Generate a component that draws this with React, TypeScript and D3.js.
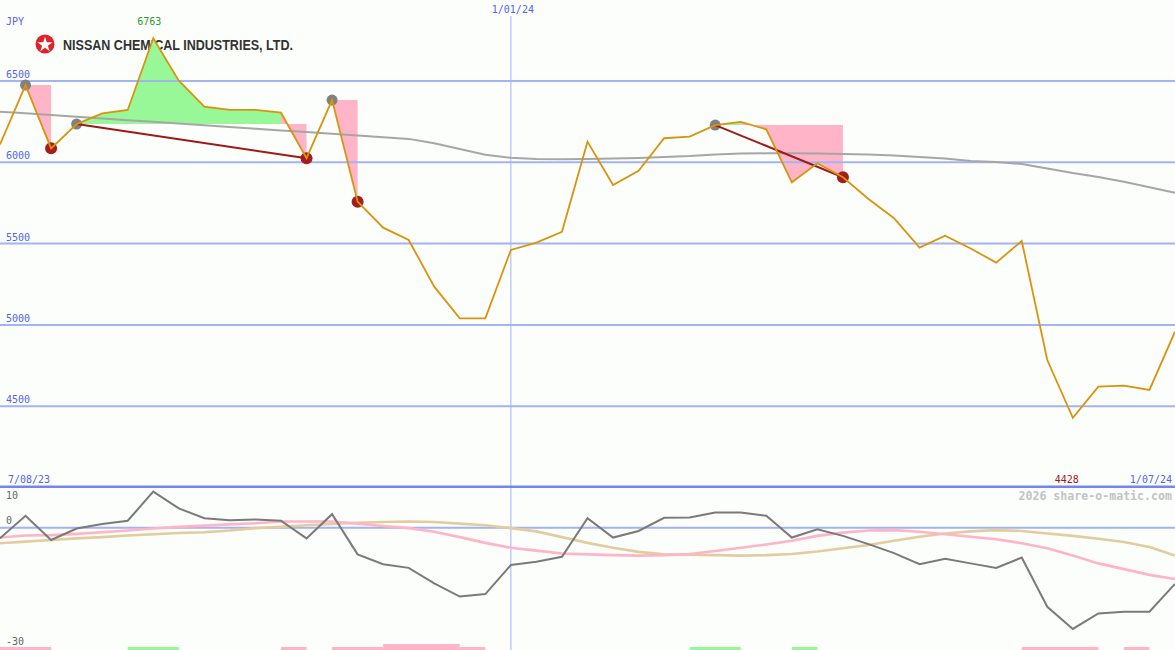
import React, { useEffect } from "react";
import * as d3 from "d3";

const dates = [
  "2023-08-14","2023-08-21","2023-08-28","2023-09-04","2023-09-11","2023-09-18","2023-09-25",
  "2023-10-02","2023-10-09","2023-10-16","2023-10-23","2023-10-30","2023-11-06","2023-11-13",
  "2023-11-20","2023-11-27","2023-12-04","2023-12-11","2023-12-18","2023-12-25","2024-01-01",
  "2024-01-08","2024-01-15","2024-01-22","2024-01-29","2024-02-05","2024-02-12","2024-02-19",
  "2024-02-26","2024-03-04","2024-03-11","2024-03-18","2024-03-25","2024-04-01","2024-04-08",
  "2024-04-15","2024-04-22","2024-04-29","2024-05-06","2024-05-13","2024-05-20","2024-05-27",
  "2024-06-03","2024-06-10","2024-06-17","2024-06-24","2024-07-01",
];

const price = [
  6110, 6475, 6086, 6235, 6301, 6322, 6763, 6502, 6342, 6322,
  6322, 6305, 6025, 6383, 5758, 5598, 5522, 5235, 5040, 5040,
  5461, 5506, 5573, 6127, 5860, 5948, 6148, 6158, 6229, 6248,
  6203, 5877, 5994, 5908, 5774, 5656, 5475, 5549, 5470, 5383,
  5516, 4784, 4428, 4620, 4626, 4600, 4958,
];

const movingAvg = [
  6311, 6301, 6291, 6280, 6270, 6259, 6249, 6238, 6228, 6217,
  6207, 6196, 6186, 6175, 6165, 6154, 6144, 6117, 6082, 6047,
  6028, 6020, 6018, 6020, 6023, 6026, 6032, 6038, 6048, 6054,
  6055, 6055, 6054, 6051, 6048, 6042, 6032, 6023, 6008, 6002,
  5990, 5962, 5934, 5910, 5880, 5846, 5812,
];

const oscGray = [
  -2.6, 2.9, -3.0, -0.2, 0.9, 1.7, 8.8, 4.7, 2.3, 1.8,
  2.0, 1.7, -2.6, 3.3, -6.5, -8.9, -9.8, -13.6, -16.8, -16.2,
  -9.1, -8.3, -7.1, 2.3, -2.4, -0.8, 2.4, 2.5, 3.7, 3.7,
  2.9, -2.4, -0.4, -2.0, -4.0, -6.2, -8.9, -7.6, -8.7, -9.8,
  -7.3, -19.3, -24.7, -20.9, -20.5, -20.5, -13.7,
];

const oscPink = [
  -2.4, -1.9, -1.8, -1.5, -1.1, -0.7, -0.2, 0.2, 0.5, 0.8,
  1.1, 1.5, 1.5, 1.5, 1.0, 0.4, -0.1, -1.0, -2.3, -3.7,
  -4.9, -5.6, -6.3, -6.5, -6.7, -6.8, -6.7, -6.4, -5.7, -4.9,
  -4.1, -3.2, -2.0, -1.2, -0.7, -0.6, -1.0, -1.6, -2.2, -2.8,
  -3.8, -5.0, -6.8, -8.7, -10.1, -11.5, -12.5,
];

const oscTan = [
  -3.8, -3.4, -3.0, -2.6, -2.3, -1.9, -1.6, -1.3, -1.1, -0.7,
  -0.1, 0.2, 0.6, 0.9, 1.2, 1.4, 1.5, 1.4, 1.0, 0.6,
  -0.1, -0.9, -2.3, -3.7, -4.9, -5.9, -6.5, -6.6, -6.7, -6.8,
  -6.7, -6.4, -5.8, -5.0, -4.2, -3.2, -2.2, -1.4, -0.9, -0.6,
  -0.8, -1.4, -2.0, -2.7, -3.5, -4.7, -6.8,
];

const priceTicks = [4500, 5000, 5500, 6000, 6500];
const oscTickLabels = [
  { v: 10, label: "10" },
  { v: 0, label: "0" },
  { v: -30, label: "-30" },
];

// pattern fills: level is price at "from"
const fillGroups = [
  { from: 1, to: 2 },
  { from: 3, to: 12 },
  { from: 13, to: 14 },
  { from: 28, to: 33 },
];
const trendLines = [
  { from: 3, to: 12 },
  { from: 28, to: 33 },
];
const highPivots = [1, 3, 13, 28];
const lowPivots = [2, 12, 14, 33];

const signalBars = [
  { from: 0, to: 2, kind: "down", size: 1 },
  { from: 5, to: 7, kind: "up", size: 1 },
  { from: 11, to: 12, kind: "down", size: 1 },
  { from: 13, to: 15, kind: "down", size: 1 },
  { from: 15, to: 18, kind: "down", size: 2 },
  { from: 18, to: 19, kind: "down", size: 1 },
  { from: 27, to: 29, kind: "up", size: 1 },
  { from: 31, to: 32, kind: "up", size: 1 },
  { from: 40, to: 43, kind: "down", size: 1 },
  { from: 44, to: 45, kind: "down", size: 1 },
];

const W = 1175;
const H = 650;
const BG = "#fbfefb";
const GRID = "#a3b3f3";
const LABEL = "#5365ee";
const GREEN = "#98f898";
const PINK = "#ffb4c8";
const MONO = "'DejaVu Sans Mono', 'Liberation Mono', monospace";

export default function App() {
  useEffect(() => {
    document.body.style.margin = "0";
  }, []);

  const parse = d3.timeParse("%Y-%m-%d");
  const dts = dates.map((s) => parse(s) as Date);
  const x = d3.scaleTime().domain(d3.extent(dts) as [Date, Date]).range([0, W]);
  const y = d3.scaleLinear().domain([4500, 6500]).range([406.2, 81]);
  const yo = d3.scaleLinear().domain([-30, 10]).range([650.7, 486.7]);
  const yb = d3.scaleLinear().domain([0, 2]).range([650, 644]);

  const idx = d3.range(price.length);
  const priceLine = d3.line<number>().x((i) => x(dts[i])).y((i) => y(price[i]));
  const maLine = d3.line<number>().x((i) => x(dts[i])).y((i) => y(movingAvg[i]));
  const oscLine = (arr: number[]) =>
    d3.line<number>().x((i) => x(dts[i])).y((i) => yo(arr[i]))(idx) || "";

  // build fill runs
  const fills: { d: string; color: string }[] = [];
  fillGroups.forEach((g) => {
    const level = price[g.from];
    let runStart = g.from;
    let runColor = "";
    for (let i = g.from; i < g.to; i++) {
      const c = price[i + 1] > level ? GREEN : PINK;
      if (i === g.from) runColor = c;
      if (c !== runColor) {
        fills.push({ d: mkArea(runStart, i, level), color: runColor });
        runStart = i;
        runColor = c;
      }
    }
    fills.push({ d: mkArea(runStart, g.to, level), color: runColor });
  });
  function mkArea(a: number, b: number, level: number) {
    return (
      d3
        .area<number>()
        .x((i) => x(dts[i]))
        .y0(() => y(level))
        .y1((i) => y(price[i]))(d3.range(a, b + 1)) || ""
    );
  }

  const jan1 = parse("2024-01-01") as Date;
  const star = d3.symbol().type(d3.symbolStar).size(72)() || "";
  const minIdx = d3.minIndex(price);
  const maxIdx = d3.maxIndex(price);

  return (
    <svg
      width={W}
      height={H}
      style={{ position: "absolute", left: 0, top: 0, display: "block" }}
    >
      <rect x={0} y={0} width={W} height={H} fill={BG} />

      {/* logo */}
      <circle cx={45} cy={44} r={9.5} fill="#e3212b" />
      <path d={star} transform="translate(45,44.8)" fill="#ffffff" />
      <text
        x={63}
        y={50}
        fontFamily="'Liberation Sans', Arial, sans-serif"
        fontWeight="bold"
        fontSize={14.5}
        fill="#333333"
        textLength={230}
        lengthAdjust="spacingAndGlyphs"
      >
        NISSAN CHEMICAL INDUSTRIES, LTD.
      </text>

      {/* fills */}
      {fills.map((f, k) => (
        <path key={k} d={f.d} fill={f.color} stroke="none" />
      ))}

      {/* price gridlines */}
      {priceTicks.map((t) => (
        <g key={t}>
          <line x1={0} x2={W} y1={y(t)} y2={y(t)} stroke={GRID} strokeWidth={2} />
          <text x={6} y={y(t) - 3} fontFamily={MONO} fontSize={10} fill={LABEL}>
            {t}
          </text>
        </g>
      ))}

      {/* vertical date line */}
      <line x1={x(jan1)} x2={x(jan1)} y1={16} y2={H} stroke={GRID} strokeWidth={1} />
      <text x={x(jan1) + 2} y={13} textAnchor="middle" fontFamily={MONO} fontSize={10} fill={LABEL}>
        1/01/24
      </text>

      <text x={6} y={25} fontFamily={MONO} fontSize={10} fill={LABEL}>
        JPY
      </text>
      <text x={x(dts[maxIdx]) - 4} y={25} textAnchor="middle" fontFamily={MONO} fontSize={10} fill="#2e9a2e">
        {price[maxIdx]}
      </text>

      {/* moving average */}
      <path d={maLine(idx) || ""} fill="none" stroke="#a6a6a6" strokeWidth={2} />

      {/* pivots */}
      {highPivots.map((i) => (
        <circle key={"h" + i} cx={x(dts[i])} cy={y(price[i])} r={5.5} fill="#808080" />
      ))}
      {lowPivots.map((i) => (
        <circle key={"l" + i} cx={x(dts[i])} cy={y(price[i])} r={6} fill="#a51d1d" />
      ))}
      {trendLines.map((t, k) => (
        <line
          key={"t" + k}
          x1={x(dts[t.from])}
          y1={y(price[t.from])}
          x2={x(dts[t.to])}
          y2={y(price[t.to])}
          stroke="#a01818"
          strokeWidth={2}
        />
      ))}

      {/* price */}
      <path d={priceLine(idx) || ""} fill="none" stroke="#d8940e" strokeWidth={1.8} strokeLinejoin="miter" />

      {/* lower panel separator */}
      <line x1={0} x2={W} y1={486.8} y2={486.8} stroke="#7685ec" strokeWidth={2.5} />
      <text x={8} y={483} fontFamily={MONO} fontSize={10} fill={LABEL}>
        7/08/23
      </text>
      <text x={x(dts[minIdx]) - 6} y={483} textAnchor="middle" fontFamily={MONO} fontSize={10} fill="#a01818">
        {price[minIdx]}
      </text>
      <text x={1172} y={483} textAnchor="end" fontFamily={MONO} fontSize={10} fill={LABEL}>
        1/07/24
      </text>
      <text
        x={1172}
        y={500}
        textAnchor="end"
        fontFamily={MONO}
        fontWeight="bold"
        fontSize={11.6}
        fill="#c4c4c4"
      >
        2026 share-o-matic.com
      </text>

      {/* oscillator */}
      <line x1={0} x2={W} y1={yo(0)} y2={yo(0)} stroke={GRID} strokeWidth={2} />
      {oscTickLabels.map((t) => (
        <text
          key={t.label}
          x={6}
          y={t.v === 10 ? 499 : t.v === 0 ? 524 : 645}
          fontFamily={MONO}
          fontSize={10}
          fill="#666666"
        >
          {t.label}
        </text>
      ))}
      <path d={oscLine(oscTan)} fill="none" stroke="#e3cc9e" strokeWidth={2.6} />
      <path d={oscLine(oscPink)} fill="none" stroke={PINK} strokeWidth={2.6} />
      <path d={oscLine(oscGray)} fill="none" stroke="#7a7a7a" strokeWidth={2} />

      {/* signal bars */}
      {signalBars.map((b, k) => (
        <rect
          key={"b" + k}
          x={x(dts[b.from])}
          y={yb(b.size)}
          width={x(dts[b.to]) - x(dts[b.from])}
          height={yb(0) - yb(b.size)}
          fill={b.kind === "up" ? GREEN : PINK}
        />
      ))}
    </svg>
  );
}
